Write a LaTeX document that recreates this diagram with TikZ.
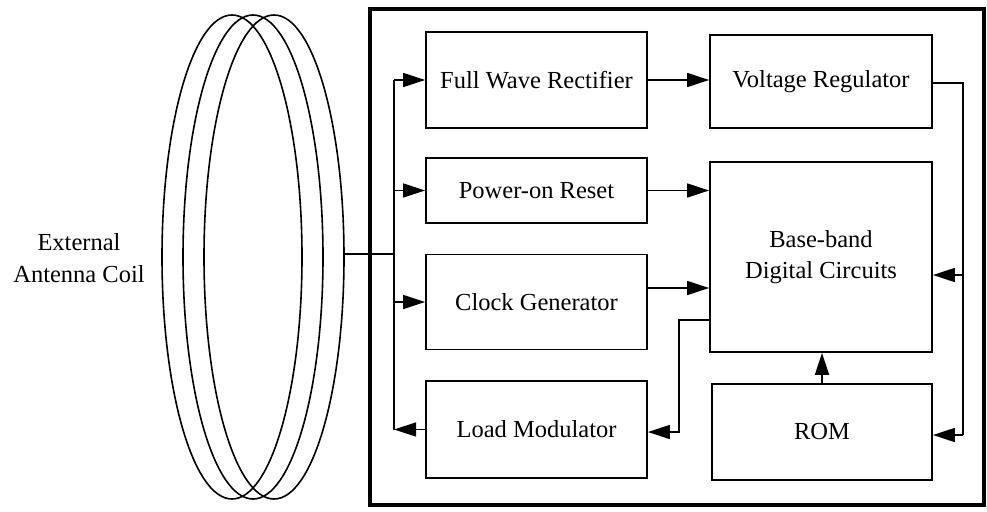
\documentclass[tikz,border=0pt]{standalone}
\usepackage{fontspec}
\setmainfont{Liberation Serif}
\usetikzlibrary{arrows.meta}
\begin{document}
\begin{tikzpicture}[x=1pt,y=-1pt,
  blk/.style={draw=black,line width=1.8pt,inner sep=0pt,align=center,
    font=\fontsize{24.5}{31}\selectfont},
  lbl/.style={inner sep=0pt,align=center,font=\fontsize{24.5}{32}\selectfont},
  wire/.style={line width=1.5pt},
  arr/.style={wire,-{Triangle[length=22pt,width=14pt]}},
  coil/.style={line width=1.6pt}]
\useasboundingbox (0,0) rectangle (987,511);
% coil
\draw[coil] (232,257) ellipse[x radius=70, y radius=242];
\draw[coil] (253,257) ellipse[x radius=70, y radius=242];
\draw[coil] (274,257) ellipse[x radius=70, y radius=242];
\coordinate (coilR) at (344,254);
\node[lbl] (ext) at (79,258) {External\\Antenna Coil};
% outer box
\draw[line width=4pt] (370,9) rectangle (984,505);
% blocks
\node[blk,minimum width=221pt,minimum height=96pt] (fwr) at (536.5,80) {Full Wave Rectifier};
\node[blk,minimum width=222pt,minimum height=93pt] (vr) at (821,81.5) {Voltage Regulator};
\node[blk,minimum width=221pt,minimum height=65pt] (por) at (536.5,190.5) {Power-on Reset};
\node[blk,minimum width=222pt,minimum height=190pt] (bb) at (821,257) {Base-band\\Digital Circuits};
\node[blk,minimum width=221pt,minimum height=95pt] (cg) at (536.5,302) {Clock Generator};
\node[blk,minimum width=221pt,minimum height=97pt] (lm) at (536.5,429.5) {Load Modulator};
\node[blk,minimum width=220pt,minimum height=96pt] (rom) at (822,432) {ROM};
% bus
\coordinate (bj) at (394,254);
\coordinate (b1) at (fwr.west -| bj);
\coordinate (b2) at (por.west -| bj);
\coordinate (b3) at (cg.west -| bj);
\coordinate (b4) at (lm.west -| bj);
\draw[wire] (coilR) -- (bj);
\draw[wire] (b1) -- (b4);
\draw[arr] (b1) -- (fwr.west);
\draw[arr] (b2) -- (por.west);
\draw[arr] (b3) -- (cg.west);
\draw[arr] (lm.west) -- (b4);
% internal arrows
\draw[arr] (fwr.east) -- (fwr.east -| vr.west);
\draw[arr] (por.east) -- (por.east -| bb.west);
\coordinate (cgo) at ([yshift=14pt]cg.east);
\draw[arr] (cgo) -- (cgo -| bb.west);
\draw[arr] (rom.north) -- (rom.north |- bb.south);
% base-band to load modulator
\coordinate (bbo) at ([yshift=-63pt]bb.west);
\coordinate (lmc) at (679,320);
\coordinate (lmi) at ([yshift=-2.5pt]lm.east);
\draw[arr] (bbo) -- (lmc) -- (lmc |- lmi) -- (lmi);
% regulator feed
\coordinate (vro) at ([yshift=-1.5pt]vr.east);
\coordinate (fr) at (963,0);
\coordinate (bbi) at ([yshift=-18pt]bb.east);
\coordinate (romi) at ([yshift=-3pt]rom.east);
\draw[wire] (vro) -- (vro -| fr) -- (fr |- romi);
\draw[arr] (fr |- romi) -- (romi);
\draw[arr] (fr |- bbi) -- (bbi);
\end{tikzpicture}
\end{document}
